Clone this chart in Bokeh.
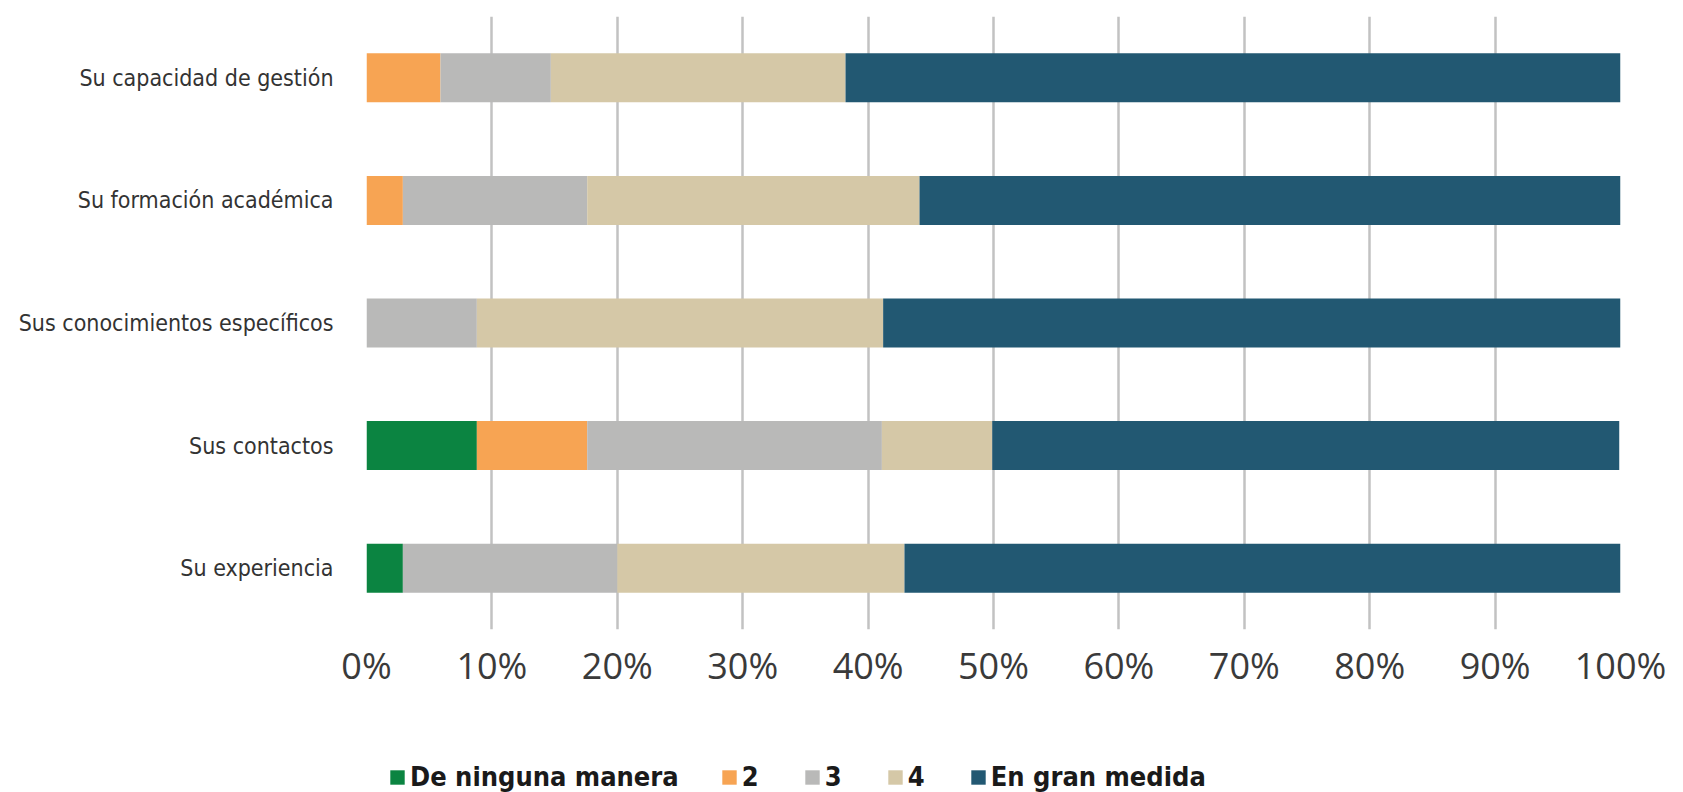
from bokeh.plotting import figure
from bokeh.layouts import column
from bokeh.models import FactorRange, Range1d, FixedTicker, CustomJSTickFormatter, Legend, LegendItem
from bokeh.embed import file_html
from bokeh.resources import INLINE

categories = ["Su experiencia", "Sus contactos", "Sus conocimientos específicos",
              "Su formación académica", "Su capacidad de gestión"]
series_names = ["De ninguna manera", "2", "3", "4", "En gran medida"]
v_ninguna = [2.9, 8.8, 0.0, 0.0, 0.0]
v_2 = [0.0, 8.8, 0.0, 2.9, 5.9]
v_3 = [17.1, 23.5, 8.8, 14.7, 8.8]
v_4 = [22.9, 8.8, 32.4, 26.5, 23.5]
v_gran = [57.1, 50.0, 58.8, 55.9, 61.8]
x_ticks = [0, 10, 20, 30, 40, 50, 60, 70, 80, 90, 100]

colors = ["#0b8441", "#f7a453", "#b9b9b8", "#d5c8a7", "#225872"]
keys = ["s0", "s1", "s2", "s3", "s4"]
data = dict(cat=categories, s0=v_ninguna, s1=v_2, s2=v_3, s3=v_4, s4=v_gran)

p = figure(width=1667, height=700, y_range=FactorRange(*categories), x_range=Range1d(0, 100),
           output_backend="svg", toolbar_location=None,
           min_border_left=366, min_border_right=47, min_border_top=16, min_border_bottom=71)
p.outline_line_color = None
p.background_fill_color = "white"

p.hbar_stack(keys, y="cat", height=0.4, color=colors, line_color=None, source=data)

p.xaxis.ticker = FixedTicker(ticks=x_ticks)
p.xaxis.formatter = CustomJSTickFormatter(code="return tick + '%';")
p.xaxis.axis_line_color = None
p.xaxis.major_tick_line_color = None
p.xaxis.minor_tick_line_color = None
p.xaxis.major_label_text_font = "Open Sans"
p.xaxis.major_label_text_font_size = "36px"
p.xaxis.major_label_text_color = "#3a3a3a"
p.xaxis.major_label_standoff = 5

p.yaxis.axis_line_color = None
p.yaxis.major_tick_line_color = None
p.yaxis.major_label_text_font = "DejaVu Sans Condensed"
p.yaxis.major_label_text_font_size = "23px"
p.yaxis.major_label_text_color = "#333333"
p.yaxis.major_label_standoff = 27

p.xgrid.ticker = FixedTicker(ticks=x_ticks)
p.xgrid.grid_line_color = "#c2c2c2"
p.xgrid.grid_line_width = 2.5
p.ygrid.grid_line_color = None

# legend strip below the chart: its stacked bars have zero height and lie
# outside its visible x range, so only the legend shows
pl = figure(width=1667, height=92, y_range=FactorRange(*categories), x_range=Range1d(-210, -110),
            output_backend="svg", toolbar_location=None,
            x_axis_type=None, y_axis_type=None, min_border=0)
pl.outline_line_color = None
pl.grid.visible = False
legend_renderers = pl.hbar_stack(keys, y="cat", height=0, color=colors, line_color=None, source=data)

items = [LegendItem(label=n, renderers=[r]) for n, r in zip(series_names, legend_renderers)]
legend = Legend(items=items, location=(22, 0), orientation="horizontal",
                glyph_width=18, glyph_height=18, label_standoff=4, spacing=41,
                label_width=20, padding=0, margin=0, border_line_color=None,
                background_fill_alpha=0,
                label_text_font="DejaVu Sans Condensed",
                label_text_font_style="bold", label_text_font_size="27px",
                label_text_color="#1a1a1a")
pl.add_layout(legend)

layout = column(p, pl, spacing=0)
open("out.html", "w").write(file_html(layout, INLINE))
